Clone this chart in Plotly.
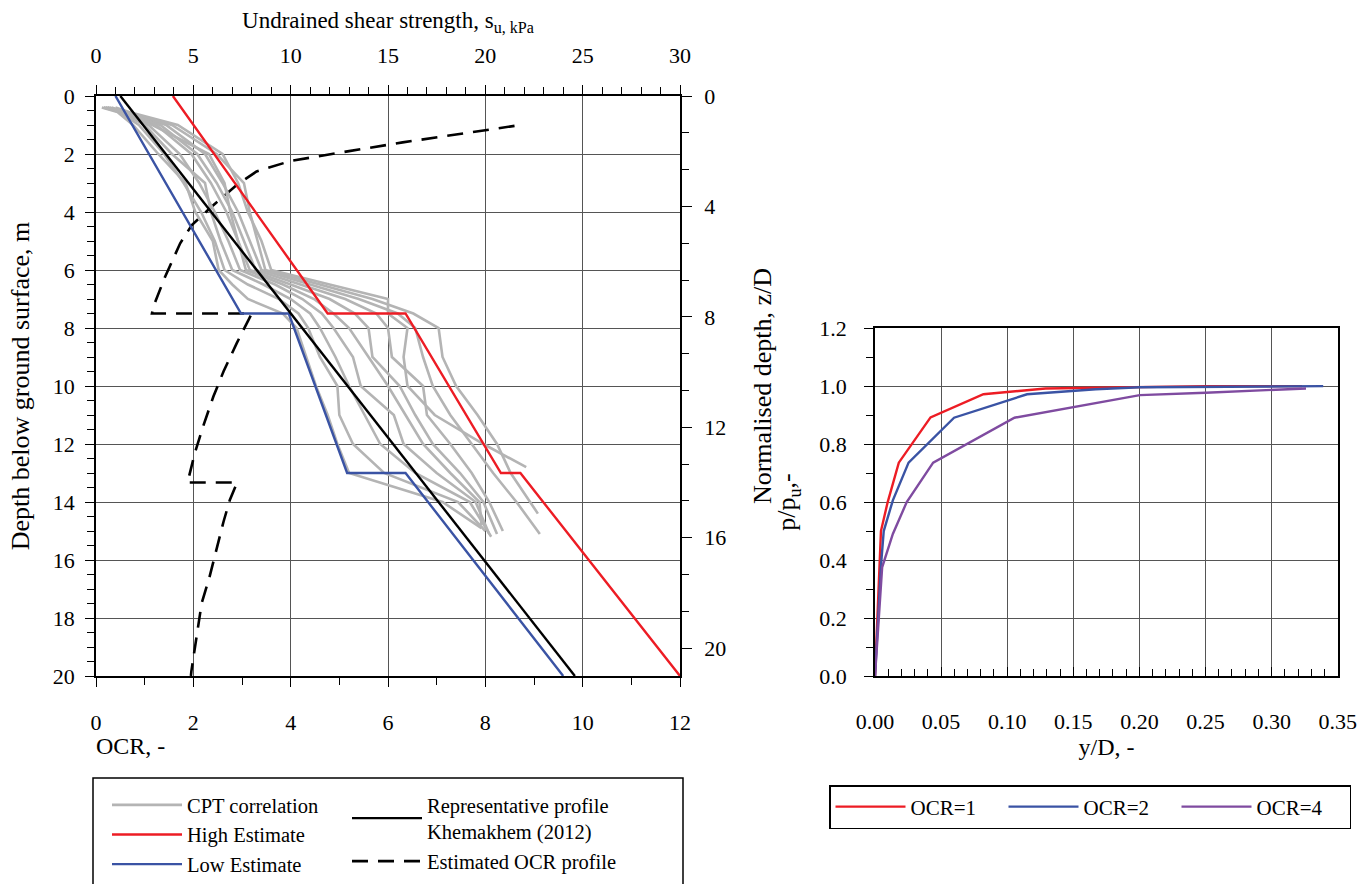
import plotly.graph_objects as go

W, H = 1370, 884
FONT = "Liberation Serif, Times New Roman, serif"

# Pile diameter (m) used for the normalised depth axis z/D
PILE_D = 0.952
MAX_DEPTH = 20.0

# ---- Strength profiles: undrained shear strength su (kPa) vs depth (m) ----
high_depth = [0.0, 7.5, 7.5, 13.0, 13.0, 20.0]
high_su = [3.95, 11.9, 15.9, 20.8, 21.8, 30.0]

low_depth = [0.0, 7.5, 7.5, 13.0, 13.0, 20.0]
low_su = [1.0, 7.45, 9.9, 12.9, 15.9, 24.0]

rep_depth = [0.0, 20.0]
rep_su = [1.25, 24.6]

# ---- CPT-correlated su traces (shared depth grid, last depth per trace) ----
cpt_depth = [0.40, 0.55, 1.0, 2.0, 3.0, 4.0, 5.0, 6.0, 6.5, 7.0, 7.5,
             8.0, 9.0, 10.0, 11.0, 12.0, 13.0, 14.0, 15.0]
cpt_end_depth = [14.9, 15.0, 15.2, 15.1, 14.8, 15.1, 15.0, 15.1, 14.4, 12.8]
cpt_su_1 = [0.3, 1.1, 1.9, 3.2, 4.6, 5.1, 6.0, 6.3, 7.0, 7.8, 9.6, 10.3, 10.8, 11.3, 11.9, 12.4, 13.0, 17.8, 19.8]
cpt_su_2 = [0.4, 1.2, 2.2, 3.5, 4.5, 5.4, 6.1, 6.6, 7.8, 9.4, 10.4, 10.9, 11.5, 12.4, 12.5, 13.2, 14.8, 18.6, 20.0]
cpt_su_3 = [0.5, 1.3, 2.5, 3.9, 5.6, 5.9, 6.4, 7.0, 8.6, 10.0, 11.0, 11.5, 12.3, 13.0, 13.8, 14.6, 16.4, 19.2, 20.3]
cpt_su_4 = [0.4, 1.4, 2.7, 4.3, 5.3, 6.1, 6.8, 7.4, 9.2, 10.6, 11.6, 12.2, 13.2, 13.6, 15.3, 15.8, 17.5, 19.5, 20.2]
cpt_su_5 = [0.6, 1.3, 2.9, 5.8, 6.6, 6.9, 7.3, 7.7, 9.6, 11.2, 12.2, 13.0, 14.0, 15.0, 15.9, 16.8, 18.2, 19.7, 19.8]
cpt_su_6 = [0.5, 1.5, 3.1, 4.9, 5.9, 6.7, 7.3, 7.9, 10.0, 12.0, 13.3, 14.0, 14.2, 15.6, 16.4, 17.3, 18.7, 19.9, 20.6]
cpt_su_7 = [0.7, 1.4, 3.3, 5.2, 6.2, 7.0, 7.6, 8.2, 10.5, 12.8, 14.4, 15.0, 15.2, 16.8, 17.0, 18.2, 19.3, 20.2, 20.9]
cpt_su_8 = [0.6, 1.6, 3.6, 5.6, 6.5, 7.3, 7.9, 8.5, 11.0, 13.5, 15.5, 16.4, 16.8, 17.3, 18.2, 19.3, 20.4, 21.6, 22.8]
cpt_su_9 = [0.8, 1.5, 3.9, 6.2, 7.6, 7.9, 8.3, 8.7, 11.5, 14.2, 16.3, 17.6, 17.8, 18.5, 19.6, 20.6, 21.3, 22.3, 22.7]
cpt_su_10 = [1.0, 1.7, 4.2, 6.5, 7.3, 7.8, 8.5, 9.0, 12.0, 15.0, 15.0, 16.0, 15.8, 16.0, 17.4, 19.9, 22.1]
cpt_su_all = [cpt_su_1, cpt_su_2, cpt_su_3, cpt_su_4, cpt_su_5,
              cpt_su_6, cpt_su_7, cpt_su_8, cpt_su_9, cpt_su_10]

# ---- Estimated OCR profile ----
ocr_depth = [1.03, 1.30, 1.60, 1.90, 2.24, 2.60, 3.07, 3.87, 4.45, 5.08, 6.23, 7.26, 7.50,
             7.50, 8.53, 9.50, 10.37, 11.40, 12.32, 13.20, 13.33,
             13.33, 13.93, 14.68, 15.60, 16.60, 17.50, 18.56, 19.83, 20.0]
ocr_value = [8.60, 7.50, 6.30, 5.20, 4.00, 3.30, 2.89, 2.34, 1.97, 1.73, 1.42, 1.18, 1.15,
             3.20, 2.89, 2.62, 2.41, 2.20, 2.03, 1.90, 1.87,
             2.90, 2.75, 2.62, 2.48, 2.33, 2.17, 2.07, 1.96, 1.95]

# ---- Normalised p-y curves ----
yD_ocr1 = [0.0, 0.0036, 0.0045, 0.0096, 0.018, 0.042, 0.082, 0.129, 0.25, 0.323]
p_ocr1 = [0.0, 0.40, 0.50, 0.60, 0.736, 0.892, 0.972, 0.992, 1.0, 1.0]
yD_ocr2 = [0.0, 0.0045, 0.0066, 0.0135, 0.0254, 0.0598, 0.115, 0.167, 0.20, 0.339]
p_ocr2 = [0.0, 0.38, 0.50, 0.606, 0.736, 0.891, 0.972, 0.989, 0.996, 1.0]
yD_ocr4 = [0.0, 0.0054, 0.0135, 0.024, 0.044, 0.1055, 0.2003, 0.25, 0.326]
p_ocr4 = [0.0, 0.375, 0.49, 0.60, 0.736, 0.891, 0.969, 0.977, 0.992]

RED, BLUE, BLACK, GREY, PURPLE = "#ed1c24", "#3a53a4", "#000000", "#b4b4b4", "#7f4ba0"
GRID = "#555555"


def fx(p):
    return p / W


def fy(p):
    return 1 - p / H


fig = go.Figure()

for i, su in enumerate(cpt_su_all):
    d = cpt_depth[:len(su) - 1] + [cpt_end_depth[i]]
    fig.add_trace(go.Scatter(
        x=su, y=d, xaxis="x2", yaxis="y", mode="lines",
        line=dict(color=GREY, width=2.6), name="CPT correlation",
        legend="legend", legendgroup="cpt", showlegend=(i == 0)))

fig.add_trace(go.Scatter(x=high_su, y=high_depth, xaxis="x2", yaxis="y", mode="lines",
                         line=dict(color=RED, width=2.4), name="High Estimate",
                         legend="legend", legendgroup="high"))
fig.add_trace(go.Scatter(x=low_su, y=low_depth, xaxis="x2", yaxis="y", mode="lines",
                         line=dict(color=BLUE, width=2.4), name="Low Estimate",
                         legend="legend", legendgroup="low"))
fig.add_trace(go.Scatter(x=rep_su, y=rep_depth, xaxis="x2", yaxis="y", mode="lines",
                         line=dict(color=BLACK, width=2.4),
                         name="Representative profile<br>Khemakhem (2012)",
                         legend="legend2", legendgroup="rep"))
fig.add_trace(go.Scatter(x=ocr_value, y=ocr_depth, xaxis="x", yaxis="y", mode="lines",
                         line=dict(color=BLACK, width=2.6, dash="16px,10px"),
                         name="Estimated OCR profile",
                         legend="legend2", legendgroup="ocr"))
# empty series that attaches the secondary z/D axis to the depth plot
fig.add_trace(go.Scatter(x=[None], y=[None], xaxis="x", yaxis="y2", mode="lines",
                         showlegend=False, hoverinfo="skip"))

for xs, ys, col, nm in [(yD_ocr1, p_ocr1, RED, "OCR=1"),
                        (yD_ocr2, p_ocr2, BLUE, "OCR=2"),
                        (yD_ocr4, p_ocr4, PURPLE, "OCR=4")]:
    fig.add_trace(go.Scatter(x=xs, y=ys, xaxis="x3", yaxis="y3", mode="lines",
                             line=dict(color=col, width=2.4), name=nm, legend="legend3"))

tick_font = dict(family=FONT, size=22)
title_font = dict(family=FONT, size=23)
ytitle_font = dict(family=FONT, size=26)
small_title_font = dict(family=FONT, size=24)
common = dict(showline=True, linecolor="black", linewidth=1.5, zeroline=False,
              tickcolor="black", tickwidth=1.2, tickfont=tick_font, automargin=False)

left_x = [fx(96), fx(680)]
left_y = [fy(676), fy(96)]
right_x = [fx(875), fx(1338)]
right_y = [fy(676), fy(328)]

fig.update_layout(
    width=W, height=H, margin=dict(l=0, r=0, t=0, b=0, autoexpand=False),
    paper_bgcolor="white", plot_bgcolor="white",
    font=dict(family=FONT, color="black"),
    xaxis=dict(domain=left_x, anchor="y", range=[0, 12], tick0=0, dtick=2,
               ticks="outside", ticklen=9, ticklabelstandoff=17,
               minor=dict(dtick=1, ticks="outside", ticklen=7, tickcolor="black", showgrid=False),
               showgrid=True, gridcolor=GRID, gridwidth=1, **common),
    xaxis2=dict(overlaying="x", side="top", anchor="y", range=[0, 30], tick0=0, dtick=5,
                ticks="outside", ticklen=9, ticklabelstandoff=13,
                minor=dict(dtick=1, ticks="outside", ticklen=7, tickcolor="black", showgrid=False),
                showgrid=False,
                title=dict(text="Undrained shear strength, s<sub>u, kPa</sub>",
                           font=title_font, standoff=8),
                **common),
    yaxis=dict(domain=left_y, anchor="x", range=[MAX_DEPTH, 0], tick0=0, dtick=2,
               ticks="outside", ticklen=9, ticklabelstandoff=6,
               minor=dict(dtick=0.5, ticks="outside", ticklen=7, tickcolor="black", showgrid=False),
               showgrid=True, gridcolor=GRID, gridwidth=1,
               title=dict(text="Depth below ground surface, m", font=ytitle_font, standoff=16),
               **common),
    yaxis2=dict(overlaying="y", side="right", anchor="x", range=[MAX_DEPTH / PILE_D, 0],
                tick0=0, dtick=4,
                ticks="outside", ticklen=10, ticklabelstandoff=8,
                minor=dict(dtick=4 / 3, ticks="outside", ticklen=7, tickcolor="black", showgrid=False),
                showgrid=False,
                title=dict(text="Normalised depth, z/D", font=ytitle_font, standoff=28),
                **common),
    xaxis3=dict(domain=right_x, anchor="y3", range=[0, 0.3502], tick0=0, dtick=0.05,
                tickformat=".2f", ticks="inside", ticklen=9, ticklabelstandoff=25,
                minor=dict(dtick=0.01, ticks="inside", ticklen=7, tickcolor="black", showgrid=False),
                showgrid=True, gridcolor=GRID, gridwidth=1, mirror=True,
                title=dict(text="y/D, -", font=small_title_font, standoff=2),
                **common),
    yaxis3=dict(domain=right_y, anchor="x3", range=[0, 1.2005], tick0=0, dtick=0.2,
                tickformat=".1f", ticks="outside", ticklen=9, ticklabelstandoff=13,
                minor=dict(dtick=0.1, ticks="outside", ticklen=7, tickcolor="black", showgrid=False),
                showgrid=True, gridcolor=GRID, gridwidth=1, mirror=True,
                title=dict(text="p/p<sub>u</sub>,-", font=ytitle_font, standoff=16),
                **common),
    legend=dict(x=fx(107), y=fy(785), xanchor="left", yanchor="top",
                bgcolor="rgba(0,0,0,0)", font=dict(family=FONT, size=20.5),
                itemwidth=70, tracegroupgap=0, traceorder="grouped"),
    legend2=dict(x=fx(347), y=fy(785), xanchor="left", yanchor="top",
                 bgcolor="rgba(0,0,0,0)", font=dict(family=FONT, size=20.5),
                 itemwidth=70, tracegroupgap=0, traceorder="grouped"),
    legend3=dict(x=fx(829), y=fy(785), xanchor="left", yanchor="top",
                 orientation="h", bgcolor="white", bordercolor="black", borderwidth=1.5,
                 font=dict(family=FONT, size=21), itemwidth=70,
                 entrywidth=88, entrywidthmode="pixels"),
    shapes=[dict(type="rect", xref="paper", yref="paper",
                 x0=fx(93), x1=fx(683), y0=fy(900), y1=fy(778),
                 line=dict(color="black", width=1.5))],
    annotations=[dict(text="OCR, -", xref="paper", yref="paper", x=fx(94), y=fy(746),
                      xanchor="left", yanchor="middle", showarrow=False, font=small_title_font)],
)

fig.write_html("out.html")
